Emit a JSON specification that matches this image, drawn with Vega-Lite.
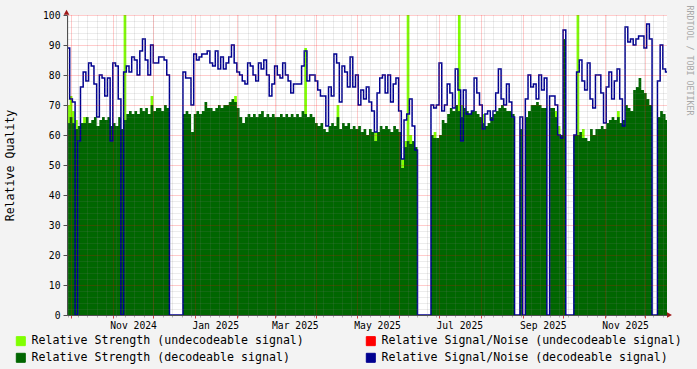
{
  "$schema": "https://vega.github.io/schema/vega-lite/v6.json",
  "width": 600,
  "height": 300,
  "autosize": {"type": "none"},
  "padding": {"left": 67, "top": 15, "right": 30, "bottom": 54},
  "background": "#F3F3F3",
  "config": {
    "view": {"fill": "#FFFFFF", "stroke": null},
    "font": "DejaVu Sans Mono",
    "axis": {"labelFont": "DejaVu Sans Mono", "titleFont": "DejaVu Sans Mono", "labelColor": "#000000", "titleColor": "#000000"}
  },
  "data": {"values": [
    {"d":"2024-09-28","g":64,"l":70,"b":89},
    {"d":"2024-09-30","g":66,"l":73,"b":72},
    {"d":"2024-10-02","g":64,"l":68,"b":71},
    {"d":"2024-10-04","g":62,"l":65,"b":0},
    {"d":"2024-10-06","g":63,"l":0,"b":58},
    {"d":"2024-10-08","g":64,"l":0,"b":76},
    {"d":"2024-10-10","g":64,"l":66,"b":81},
    {"d":"2024-10-12","g":66,"l":0,"b":78},
    {"d":"2024-10-14","g":64,"l":0,"b":84},
    {"d":"2024-10-16","g":65,"l":0,"b":83},
    {"d":"2024-10-18","g":66,"l":0,"b":77},
    {"d":"2024-10-20","g":63,"l":0,"b":66},
    {"d":"2024-10-22","g":65,"l":0,"b":80},
    {"d":"2024-10-24","g":66,"l":0,"b":79},
    {"d":"2024-10-26","g":65,"l":0,"b":73},
    {"d":"2024-10-28","g":66,"l":0,"b":79},
    {"d":"2024-10-30","g":63,"l":0,"b":58},
    {"d":"2024-11-01","g":64,"l":0,"b":84},
    {"d":"2024-11-03","g":63,"l":0,"b":83},
    {"d":"2024-11-05","g":66,"l":0,"b":72},
    {"d":"2024-11-07","g":62,"l":0,"b":0},
    {"d":"2024-11-09","g":65,"l":100,"b":81},
    {"d":"2024-11-11","g":67,"l":0,"b":83},
    {"d":"2024-11-13","g":68,"l":0,"b":81},
    {"d":"2024-11-15","g":67,"l":0,"b":86},
    {"d":"2024-11-17","g":68,"l":0,"b":85},
    {"d":"2024-11-19","g":67,"l":0,"b":80},
    {"d":"2024-11-21","g":69,"l":0,"b":88},
    {"d":"2024-11-23","g":68,"l":0,"b":92},
    {"d":"2024-11-25","g":69,"l":0,"b":85},
    {"d":"2024-11-27","g":67,"l":0,"b":80},
    {"d":"2024-11-29","g":70,"l":73,"b":90},
    {"d":"2024-12-01","g":68,"l":0,"b":84},
    {"d":"2024-12-03","g":69,"l":0,"b":84},
    {"d":"2024-12-05","g":69,"l":0,"b":86},
    {"d":"2024-12-07","g":68,"l":0,"b":86},
    {"d":"2024-12-09","g":70,"l":0,"b":85},
    {"d":"2024-12-11","g":69,"l":0,"b":80},
    {"d":"2024-12-13","g":0,"l":0,"b":0},
    {"d":"2024-12-15","g":0,"l":0,"b":0},
    {"d":"2024-12-17","g":0,"l":0,"b":0},
    {"d":"2024-12-19","g":0,"l":0,"b":0},
    {"d":"2024-12-21","g":0,"l":0,"b":0},
    {"d":"2024-12-23","g":67,"l":0,"b":81},
    {"d":"2024-12-25","g":68,"l":0,"b":79},
    {"d":"2024-12-27","g":67,"l":0,"b":79},
    {"d":"2024-12-29","g":61,"l":0,"b":70},
    {"d":"2024-12-31","g":67,"l":0,"b":87},
    {"d":"2025-01-02","g":68,"l":0,"b":85},
    {"d":"2025-01-04","g":67,"l":0,"b":86},
    {"d":"2025-01-06","g":68,"l":0,"b":87},
    {"d":"2025-01-08","g":71,"l":0,"b":87},
    {"d":"2025-01-10","g":69,"l":0,"b":88},
    {"d":"2025-01-12","g":69,"l":0,"b":84},
    {"d":"2025-01-14","g":68,"l":0,"b":83},
    {"d":"2025-01-16","g":69,"l":0,"b":88},
    {"d":"2025-01-18","g":70,"l":0,"b":82},
    {"d":"2025-01-20","g":69,"l":0,"b":86},
    {"d":"2025-01-22","g":70,"l":0,"b":82},
    {"d":"2025-01-24","g":70,"l":0,"b":84},
    {"d":"2025-01-26","g":71,"l":0,"b":86},
    {"d":"2025-01-28","g":72,"l":0,"b":90},
    {"d":"2025-01-30","g":71,"l":73,"b":84},
    {"d":"2025-02-01","g":69,"l":0,"b":81},
    {"d":"2025-02-03","g":66,"l":0,"b":80},
    {"d":"2025-02-05","g":64,"l":0,"b":78},
    {"d":"2025-02-07","g":66,"l":0,"b":77},
    {"d":"2025-02-09","g":67,"l":0,"b":84},
    {"d":"2025-02-11","g":66,"l":0,"b":83},
    {"d":"2025-02-13","g":67,"l":0,"b":80},
    {"d":"2025-02-15","g":66,"l":0,"b":78},
    {"d":"2025-02-17","g":67,"l":0,"b":84},
    {"d":"2025-02-19","g":68,"l":0,"b":82},
    {"d":"2025-02-21","g":66,"l":0,"b":85},
    {"d":"2025-02-23","g":67,"l":0,"b":80},
    {"d":"2025-02-25","g":66,"l":0,"b":73},
    {"d":"2025-02-27","g":67,"l":0,"b":77},
    {"d":"2025-03-01","g":66,"l":0,"b":83},
    {"d":"2025-03-03","g":66,"l":0,"b":80},
    {"d":"2025-03-05","g":67,"l":0,"b":79},
    {"d":"2025-03-07","g":66,"l":0,"b":84},
    {"d":"2025-03-09","g":67,"l":0,"b":80},
    {"d":"2025-03-11","g":66,"l":0,"b":78},
    {"d":"2025-03-13","g":67,"l":0,"b":74},
    {"d":"2025-03-15","g":66,"l":0,"b":77},
    {"d":"2025-03-17","g":67,"l":0,"b":77},
    {"d":"2025-03-19","g":66,"l":0,"b":77},
    {"d":"2025-03-21","g":68,"l":0,"b":83},
    {"d":"2025-03-23","g":67,"l":89,"b":88},
    {"d":"2025-03-25","g":66,"l":0,"b":78},
    {"d":"2025-03-27","g":67,"l":0,"b":80},
    {"d":"2025-03-29","g":66,"l":0,"b":80},
    {"d":"2025-03-31","g":64,"l":0,"b":78},
    {"d":"2025-04-02","g":63,"l":0,"b":75},
    {"d":"2025-04-04","g":64,"l":0,"b":73},
    {"d":"2025-04-06","g":62,"l":0,"b":73},
    {"d":"2025-04-08","g":61,"l":0,"b":63},
    {"d":"2025-04-10","g":63,"l":0,"b":76},
    {"d":"2025-04-12","g":64,"l":0,"b":73},
    {"d":"2025-04-14","g":63,"l":0,"b":87},
    {"d":"2025-04-16","g":66,"l":70,"b":84},
    {"d":"2025-04-18","g":62,"l":0,"b":71},
    {"d":"2025-04-20","g":64,"l":0,"b":83},
    {"d":"2025-04-22","g":63,"l":0,"b":81},
    {"d":"2025-04-24","g":64,"l":0,"b":76},
    {"d":"2025-04-26","g":62,"l":0,"b":86},
    {"d":"2025-04-28","g":63,"l":0,"b":76},
    {"d":"2025-04-30","g":62,"l":0,"b":80},
    {"d":"2025-05-02","g":63,"l":0,"b":70},
    {"d":"2025-05-04","g":61,"l":0,"b":75},
    {"d":"2025-05-06","g":62,"l":0,"b":72},
    {"d":"2025-05-08","g":60,"l":0,"b":76},
    {"d":"2025-05-10","g":62,"l":0,"b":71},
    {"d":"2025-05-12","g":61,"l":0,"b":68},
    {"d":"2025-05-14","g":58,"l":61,"b":61},
    {"d":"2025-05-16","g":61,"l":0,"b":74},
    {"d":"2025-05-18","g":63,"l":0,"b":79},
    {"d":"2025-05-20","g":62,"l":0,"b":80},
    {"d":"2025-05-22","g":63,"l":0,"b":74},
    {"d":"2025-05-24","g":62,"l":0,"b":80},
    {"d":"2025-05-26","g":61,"l":0,"b":71},
    {"d":"2025-05-28","g":63,"l":0,"b":77},
    {"d":"2025-05-30","g":62,"l":0,"b":79},
    {"d":"2025-06-01","g":61,"l":0,"b":68},
    {"d":"2025-06-03","g":49,"l":52,"b":52},
    {"d":"2025-06-05","g":56,"l":58,"b":65},
    {"d":"2025-06-07","g":58,"l":100,"b":67},
    {"d":"2025-06-09","g":57,"l":60,"b":72},
    {"d":"2025-06-11","g":58,"l":0,"b":63},
    {"d":"2025-06-13","g":56,"l":0,"b":55},
    {"d":"2025-06-15","g":0,"l":0,"b":0},
    {"d":"2025-06-17","g":0,"l":0,"b":0},
    {"d":"2025-06-19","g":0,"l":0,"b":0},
    {"d":"2025-06-21","g":0,"l":0,"b":0},
    {"d":"2025-06-23","g":0,"l":0,"b":0},
    {"d":"2025-06-25","g":60,"l":0,"b":70},
    {"d":"2025-06-27","g":59,"l":61,"b":69},
    {"d":"2025-06-29","g":59,"l":0,"b":70},
    {"d":"2025-07-01","g":60,"l":0,"b":84},
    {"d":"2025-07-03","g":65,"l":0,"b":68},
    {"d":"2025-07-05","g":64,"l":0,"b":70},
    {"d":"2025-07-07","g":67,"l":0,"b":77},
    {"d":"2025-07-09","g":69,"l":0,"b":74},
    {"d":"2025-07-11","g":68,"l":0,"b":69},
    {"d":"2025-07-13","g":70,"l":0,"b":82},
    {"d":"2025-07-15","g":68,"l":100,"b":75},
    {"d":"2025-07-17","g":66,"l":70,"b":58},
    {"d":"2025-07-19","g":69,"l":0,"b":75},
    {"d":"2025-07-21","g":68,"l":0,"b":67},
    {"d":"2025-07-23","g":67,"l":0,"b":67},
    {"d":"2025-07-25","g":68,"l":0,"b":68},
    {"d":"2025-07-27","g":68,"l":0,"b":79},
    {"d":"2025-07-29","g":67,"l":0,"b":74},
    {"d":"2025-07-31","g":66,"l":0,"b":70},
    {"d":"2025-08-02","g":64,"l":67,"b":62},
    {"d":"2025-08-04","g":63,"l":0,"b":67},
    {"d":"2025-08-06","g":64,"l":0,"b":68},
    {"d":"2025-08-08","g":66,"l":0,"b":65},
    {"d":"2025-08-10","g":67,"l":0,"b":68},
    {"d":"2025-08-12","g":68,"l":0,"b":74},
    {"d":"2025-08-14","g":69,"l":0,"b":82},
    {"d":"2025-08-16","g":70,"l":0,"b":72},
    {"d":"2025-08-18","g":69,"l":0,"b":70},
    {"d":"2025-08-20","g":68,"l":0,"b":77},
    {"d":"2025-08-22","g":68,"l":0,"b":71},
    {"d":"2025-08-24","g":67,"l":0,"b":66},
    {"d":"2025-08-26","g":0,"l":0,"b":0},
    {"d":"2025-08-28","g":0,"l":0,"b":0},
    {"d":"2025-08-30","g":62,"l":0,"b":66},
    {"d":"2025-09-01","g":0,"l":0,"b":0},
    {"d":"2025-09-03","g":66,"l":0,"b":72},
    {"d":"2025-09-05","g":68,"l":0,"b":80},
    {"d":"2025-09-07","g":70,"l":0,"b":76},
    {"d":"2025-09-09","g":70,"l":0,"b":77},
    {"d":"2025-09-11","g":71,"l":0,"b":72},
    {"d":"2025-09-13","g":70,"l":0,"b":80},
    {"d":"2025-09-15","g":69,"l":0,"b":75},
    {"d":"2025-09-17","g":69,"l":0,"b":79},
    {"d":"2025-09-19","g":0,"l":0,"b":0},
    {"d":"2025-09-21","g":69,"l":0,"b":73},
    {"d":"2025-09-23","g":69,"l":0,"b":73},
    {"d":"2025-09-25","g":66,"l":68,"b":70},
    {"d":"2025-09-27","g":60,"l":63,"b":60},
    {"d":"2025-09-29","g":60,"l":0,"b":59},
    {"d":"2025-10-01","g":92,"l":0,"b":95},
    {"d":"2025-10-03","g":0,"l":0,"b":0},
    {"d":"2025-10-05","g":0,"l":0,"b":0},
    {"d":"2025-10-07","g":0,"l":0,"b":0},
    {"d":"2025-10-09","g":60,"l":0,"b":60},
    {"d":"2025-10-11","g":60,"l":100,"b":81},
    {"d":"2025-10-13","g":61,"l":0,"b":85},
    {"d":"2025-10-15","g":59,"l":62,"b":78},
    {"d":"2025-10-17","g":59,"l":0,"b":75},
    {"d":"2025-10-19","g":58,"l":0,"b":84},
    {"d":"2025-10-21","g":62,"l":0,"b":72},
    {"d":"2025-10-23","g":60,"l":0,"b":69},
    {"d":"2025-10-25","g":62,"l":0,"b":80},
    {"d":"2025-10-27","g":62,"l":0,"b":80},
    {"d":"2025-10-29","g":63,"l":0,"b":74},
    {"d":"2025-10-31","g":62,"l":0,"b":64},
    {"d":"2025-11-02","g":64,"l":0,"b":76},
    {"d":"2025-11-04","g":65,"l":0,"b":81},
    {"d":"2025-11-06","g":66,"l":0,"b":72},
    {"d":"2025-11-08","g":65,"l":0,"b":78},
    {"d":"2025-11-10","g":66,"l":68,"b":82},
    {"d":"2025-11-12","g":64,"l":0,"b":72},
    {"d":"2025-11-14","g":65,"l":0,"b":63},
    {"d":"2025-11-16","g":70,"l":0,"b":96},
    {"d":"2025-11-18","g":69,"l":0,"b":91},
    {"d":"2025-11-20","g":68,"l":0,"b":92},
    {"d":"2025-11-22","g":75,"l":0,"b":90},
    {"d":"2025-11-24","g":76,"l":0,"b":92},
    {"d":"2025-11-26","g":79,"l":0,"b":93},
    {"d":"2025-11-28","g":75,"l":0,"b":93},
    {"d":"2025-11-30","g":74,"l":0,"b":89},
    {"d":"2025-12-02","g":72,"l":0,"b":97},
    {"d":"2025-12-04","g":70,"l":0,"b":92},
    {"d":"2025-12-06","g":0,"l":0,"b":0},
    {"d":"2025-12-08","g":0,"l":0,"b":0},
    {"d":"2025-12-10","g":66,"l":0,"b":78},
    {"d":"2025-12-12","g":68,"l":0,"b":90},
    {"d":"2025-12-14","g":67,"l":0,"b":82},
    {"d":"2025-12-16","g":65,"l":0,"b":81},
    {"d":"2025-12-18","g":0,"l":0,"b":0}
  ]},
  "layer": [
    {
      "mark": {"type": "area", "interpolate": "step-after", "opacity": 1, "clip": true},
      "encoding": {
        "x": {"field": "d", "type": "temporal",
          "scale": {"type": "utc", "domain": [{"year": 2024, "month": 9, "date": 28, "utc": true}, {"year": 2025, "month": 12, "date": 17, "hours": 2, "utc": true}]},
          "axis": {"orient": "bottom", "tickCount": {"interval": "week", "step": 1}, "grid": true, "gridColor": "#808080", "gridOpacity": 0.3, "gridDash": [1, 1], "labels": false, "ticks": true, "tickColor": "#B0B0B0", "tickSize": 2, "domain": false, "title": null, "zindex": 1}},
        "y": {"field": "l", "type": "quantitative", "scale": {"domain": [0, 100]},
          "axis": {"orient": "left", "values": [2,4,6,8,12,14,16,18,22,24,26,28,32,34,36,38,42,44,46,48,52,54,56,58,62,64,66,68,72,74,76,78,82,84,86,88,92,94,96,98], "grid": true, "gridColor": "#808080", "gridOpacity": 0.3, "gridDash": [1, 1], "labels": false, "ticks": false, "domain": false, "title": null, "zindex": 1}},
        "color": {"datum": "Relative Strength (undecodeable signal)",
          "scale": {"domain": ["Relative Strength (undecodeable signal)", "Relative Signal/Noise (undecodeable signal)", "Relative Strength  (decodeable signal)", "Relative Signal/Noise (decodeable signal)"], "range": ["#80FF00", "#FF0000", "#006600", "#000090"]},
          "legend": {"orient": "none", "legendX": -52, "legendY": 320, "columns": 2, "direction": "horizontal", "columnPadding": 60, "rowPadding": 3, "symbolType": "square", "symbolSize": 81, "symbolStrokeWidth": 1, "symbolStrokeColor": "#000000", "symbolOpacity": 1, "labelFont": "DejaVu Sans Mono", "labelFontSize": 11.6, "labelColor": "#000000", "labelOffset": 5, "labelLimit": 0, "title": null,
            "encode": {"symbols": {"update": {"stroke": {"value": "#000000"}, "strokeWidth": {"value": 1}, "opacity": {"value": 1}}}}}}
      }
    },
    {
      "mark": {"type": "area", "interpolate": "step-after", "opacity": 1, "clip": true},
      "encoding": {
        "x": {"field": "d", "type": "temporal",
          "axis": {"orient": "bottom", "tickCount": {"interval": "month", "step": 1}, "grid": true, "gridColor": "#FF0000", "gridOpacity": 0.4, "gridDash": [1, 1], "labels": false, "ticks": true, "tickColor": "#D04040", "tickSize": 3, "domain": true, "domainColor": "#505050", "title": null, "zindex": 1}},
        "y": {"field": "g", "type": "quantitative",
          "axis": {"orient": "left", "values": [0,10,20,30,40,50,60,70,80,90,100], "grid": true, "gridColor": "#FF0000", "gridOpacity": 0.4, "gridDash": [1, 1], "labels": true, "labelFontSize": 9.7, "labelPadding": 3, "ticks": true, "tickSize": 4, "tickColor": "#505050", "domain": true, "domainColor": "#505050", "title": "Relative Quality", "titleFontSize": 11.6, "titleFontWeight": "normal", "titlePadding": 27, "zindex": 1}},
        "color": {"datum": "Relative Strength  (decodeable signal)",
          "scale": {"domain": ["Relative Strength (undecodeable signal)", "Relative Signal/Noise (undecodeable signal)", "Relative Strength  (decodeable signal)", "Relative Signal/Noise (decodeable signal)"], "range": ["#80FF00", "#FF0000", "#006600", "#000090"]},
          "legend": null}
      }
    },
    {
      "mark": {"type": "line", "interpolate": "step-after", "strokeWidth": 1.5, "clip": true},
      "encoding": {
        "x": {"field": "d", "type": "temporal",
          "axis": {"orient": "bottom", "values": [{"year": 2024, "month": 11, "date": 16, "utc": true}, {"year": 2025, "month": 1, "date": 16, "utc": true}, {"year": 2025, "month": 3, "date": 16, "utc": true}, {"year": 2025, "month": 5, "date": 16, "utc": true}, {"year": 2025, "month": 7, "date": 16, "utc": true}, {"year": 2025, "month": 9, "date": 16, "utc": true}, {"year": 2025, "month": 11, "date": 16, "utc": true}], "labelExpr": "utcFormat(datum.value, '%b %Y')", "grid": false, "ticks": false, "domain": false, "labelPadding": 5, "labelFontSize": 9.7, "labelFlush": false, "labelOverlap": false, "title": null, "zindex": 1}},
        "y": {"field": "b", "type": "quantitative",
          "axis": {"orient": "right", "labels": false, "ticks": false, "domain": false, "grid": false, "title": "RRDTOOL / TOBI OETIKER", "titleFont": "DejaVu Sans Mono", "titleFontSize": 8.3, "titleFontWeight": "normal", "titleColor": "#A8A8A8", "titleAngle": 90, "titleAlign": "left", "titleBaseline": "middle", "titleX": 21, "titleY": -10}},
        "color": {"datum": "Relative Signal/Noise (decodeable signal)",
          "scale": {"domain": ["Relative Strength (undecodeable signal)", "Relative Signal/Noise (undecodeable signal)", "Relative Strength  (decodeable signal)", "Relative Signal/Noise (decodeable signal)"], "range": ["#80FF00", "#FF0000", "#006600", "#000090"]},
          "legend": null}
      }
    },
    {
      "data": {"values": [{"p": "top"}]},
      "mark": {"type": "point", "shape": "triangle-up", "filled": true, "color": "#A01818", "size": 32, "opacity": 1},
      "encoding": {
        "x": {"datum": {"year": 2024, "month": 9, "date": 27, "hours": 16, "utc": true}, "type": "temporal", "axis": null},
        "y": {"datum": 100.9, "type": "quantitative", "axis": null}
      }
    },
    {
      "data": {"values": [{"p": "right"}]},
      "mark": {"type": "point", "shape": "triangle-right", "filled": true, "color": "#A01818", "size": 32, "opacity": 1},
      "encoding": {
        "x": {"datum": {"year": 2025, "month": 12, "date": 18, "hours": 22, "utc": true}, "type": "temporal", "axis": null},
        "y": {"datum": 0, "type": "quantitative", "axis": null}
      }
    }
  ],
  "resolve": {"axis": {"x": "independent", "y": "independent"}}
}
